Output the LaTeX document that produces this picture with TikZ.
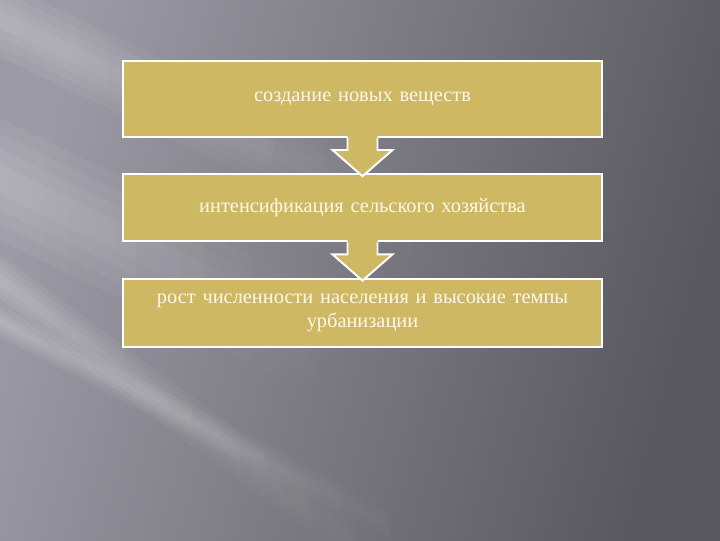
\documentclass[tikz,border=0pt]{standalone}
\usepackage{fontspec}
\setmainfont[WordSpace=0.8]{Liberation Serif}
\usetikzlibrary{positioning,calc,fadings}

\definecolor{slidegold}{RGB}{206,184,99}
\definecolor{slidecream}{RGB}{252,248,232}
\definecolor{bglight}{RGB}{156,154,164}
\definecolor{bgdark}{RGB}{88,87,94}

\tikzfading[name=fade right, left color=transparent!0, middle color=transparent!25, right color=transparent!100]

\begin{document}
\begin{tikzpicture}[x=0.025cm, y=-0.025cm, node distance=0.88cm,
    block/.style={draw=white, fill=slidegold, line width=1.4pt, minimum width=11.98cm, text width=11.6cm, align=center, text=slidecream, font=\fontsize{14.5}{17}\selectfont},
    flow/.style={draw=white, line width=1.4pt, line join=miter},
    ray/.style={white, opacity=0.075, path fading=fade right}]

        % background
        \useasboundingbox (0,0) rectangle (720,540);
        \shade[left color=bglight, right color=bgdark, shading angle=75] (0,0) rectangle (720,540);
        \begin{scope}
            \clip (0,0) rectangle (720,540);
            \foreach \cx/\cy/\ang/\len/\w in {190/110/-25.6/277/34, 135/245/-26/217/55, 170/405/-36.4/261/20, 190/420/-27.5/260/14} {
                \foreach \s in {1,0.75,0.5,0.25}
                    \fill[ray, shift={(\cx,\cy)}, rotate=\ang] (-\len,-\w*\s) rectangle (\len,\w*\s);
            }
        \end{scope}

        % boxes
        \node[block, minimum height=1.9cm] (soz) at (362.5,99) {создание новых веществ};
        \node[block, minimum height=1.68cm, below=of soz] (int) {интенсификация сельского хозяйства};
        \node[block, minimum height=1.7cm, below=of int] (rost) {рост численности населения и высокие темпы\\урбанизации};

        % arrows
        \foreach \a/\b in {soz/int, int/rost} {
            \fill[slidegold] ($(\a.south)+(-15,-3)$) -- ($(\a.south)+(-15,12)$) -- ($(\a.south)+(-30,12)$)
                -- ($(\b.north)+(0,3)$) -- ($(\a.south)+(30,12)$) -- ($(\a.south)+(15,12)$) -- ($(\a.south)+(15,-3)$) -- cycle;
            \draw[flow] ($(\a.south)$) ++(-15,0) -- ++(0,12) -- ++(-15,0) -- ($(\b.north)+(0,3)$)
                -- ($(\a.south)+(30,12)$) -- ($(\a.south)+(15,12)$) -- ($(\a.south)+(15,0)$);
        }

    \end{tikzpicture}
\end{document}
